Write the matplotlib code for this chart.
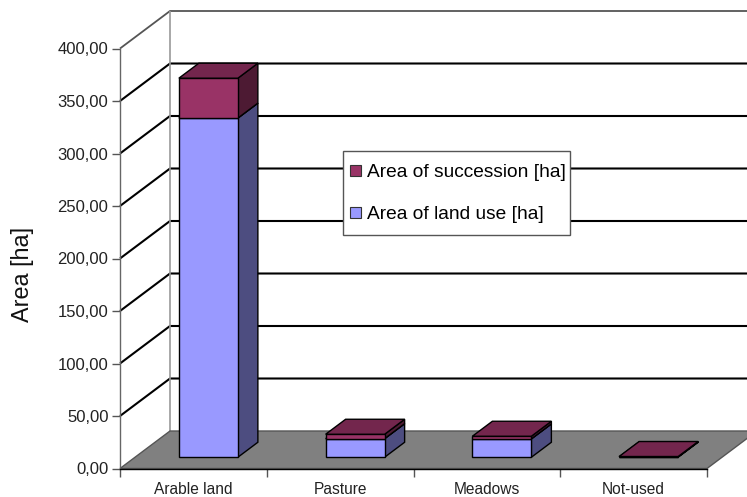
import matplotlib
matplotlib.use("Agg")
import matplotlib.pyplot as plt
from matplotlib.patches import Polygon, Patch, Rectangle

plt.rcParams['font.family'] = ['Liberation Sans', 'DejaVu Sans']

# Chart values
categories = ["Arable land", "Pasture", "Meadows", "Not-used"]
land_use = [323.0, 17.7, 17.5, 0.4]
succession = [38.0, 4.2, 2.5, 0.3]
y_ticks = [0, 50, 100, 150, 200, 250, 300, 350, 400]
y_tick_labels = ["0,00", "50,00", "100,00", "150,00", "200,00", "250,00", "300,00", "350,00", "400,00"]
series_names = ["Area of succession [ha]", "Area of land use [ha]"]

# Colours: front, side and top faces of each stacked segment
land_faces = ("#9999FF", "#4D4D80", "#7373BF")
succ_faces = ("#993366", "#4D1A33", "#73264D")
FLOOR = "#808080"

W, H = 747, 497
fig = plt.figure(figsize=(W / 100, H / 100), dpi=100, facecolor="white")
ax = fig.add_axes([120 / W, 1 - 468.5 / H, 587 / W, 420 / H])
ax.set_xlim(0, 4)
ax.set_ylim(0, 400)
ax.patch.set_visible(False)

# Oblique projection: depth 0 is the front plane, depth 1 the back wall
DEPTH_X = 50 / (587 / 4)
DEPTH_Y = 37.5 / (420 / 400)


def proj(x, v, d):
    return x + d * DEPTH_X, v + d * DEPTH_Y


def face(points, color, z, edge="black", lw=1.0):
    ax.add_patch(Polygon([proj(*p) for p in points], closed=True, facecolor=color,
                         edgecolor=edge, linewidth=lw, joinstyle="miter",
                         zorder=z, clip_on=False))


def line(points, color, lw, z):
    xs, ys = zip(*[proj(*p) for p in points])
    ax.plot(xs, ys, color=color, lw=lw, zorder=z, clip_on=False, solid_capstyle="butt")


# Gridlines run along the side wall and then across the back wall
for v in y_ticks[1:-1]:
    line([(0, v, 0), (0, v, 1), (4, v, 1)], "black", 1.5, 1)
line([(0, 400, 0), (0, 400, 1), (4, 400, 1)], "#555555", 1.3, 1)
line([(0, 0, 1), (0, 400, 1)], "#999999", 1.2, 1.5)

# Floor
face([(0, 0, 0), (4, 0, 0), (4, 0, 1), (0, 0, 1)], FLOOR, 2, edge="#555555", lw=1.0)

# Stacked bars
BAR_W = 59 / (587 / 4)
D0, D1 = 0.3, 0.7
for i in range(len(categories)):
    x0 = i + 0.5 - BAR_W / 2
    x1 = x0 + BAR_W
    base = 0.0
    for val, faces in ((land_use[i], land_faces), (succession[i], succ_faces)):
        top = base + val
        z = 3 + i + (0.5 if faces is succ_faces else 0)
        face([(x1, base, D0), (x1, base, D1), (x1, top, D1), (x1, top, D0)], faces[1], z)
        face([(x0, base, D0), (x1, base, D0), (x1, top, D0), (x0, top, D0)], faces[0], z)
        face([(x0, top, D0), (x1, top, D0), (x1, top, D1), (x0, top, D1)], faces[2], z)
        base = top

# Axes
for side in ("top", "right"):
    ax.spines[side].set_visible(False)
ax.spines["left"].set_color("#666666")
ax.spines["left"].set_linewidth(1.0)
ax.spines["bottom"].set_color("black")
ax.spines["bottom"].set_linewidth(1.0)
ax.spines["bottom"].set_zorder(2.5)
ax.spines["left"].set_zorder(2.5)

ax.set_yticks(y_ticks)
ax.set_yticklabels(y_tick_labels, fontsize=12, color="#222222")
ax.set_xticks(range(5))
ax.set_xticklabels([])
ax.set_xticks([i + 0.5 for i in range(4)], minor=True)
ax.set_xticklabels(categories, minor=True, fontsize=11.2, color="#222222")
ax.tick_params(axis="y", length=5.5, width=1, color="#555555", pad=2.8)
ax.tick_params(axis="x", which="major", length=5.5, width=1, color="#555555")
ax.tick_params(axis="x", which="minor", length=0, pad=9.5)
ax.set_ylabel("Area [ha]", fontsize=16.8, color="#111111")
ax.yaxis.set_label_coords(-85.5 / 587, 0.461)

# Legend box
fig.add_artist(Rectangle((343 / W, 1 - 235 / H), 227 / W, 84 / H, transform=fig.transFigure,
                         facecolor="white", edgecolor="#555555", linewidth=1.0, zorder=19))

handles = [Patch(facecolor=succ_faces[0], edgecolor="#333333", linewidth=0.8),
           Patch(facecolor=land_faces[0], edgecolor="#333333", linewidth=0.8)]
leg = fig.legend(handles, series_names, loc="center", fontsize=13.8,
                 bbox_to_anchor=(458 / W, 1 - 193.8 / H), frameon=False,
                 handlelength=0.55, handleheight=0.55, handletextpad=0.3,
                 labelspacing=1.32, borderpad=0.5, borderaxespad=0)
leg.set_zorder(20)

fig.savefig("out.png", dpi=100)
